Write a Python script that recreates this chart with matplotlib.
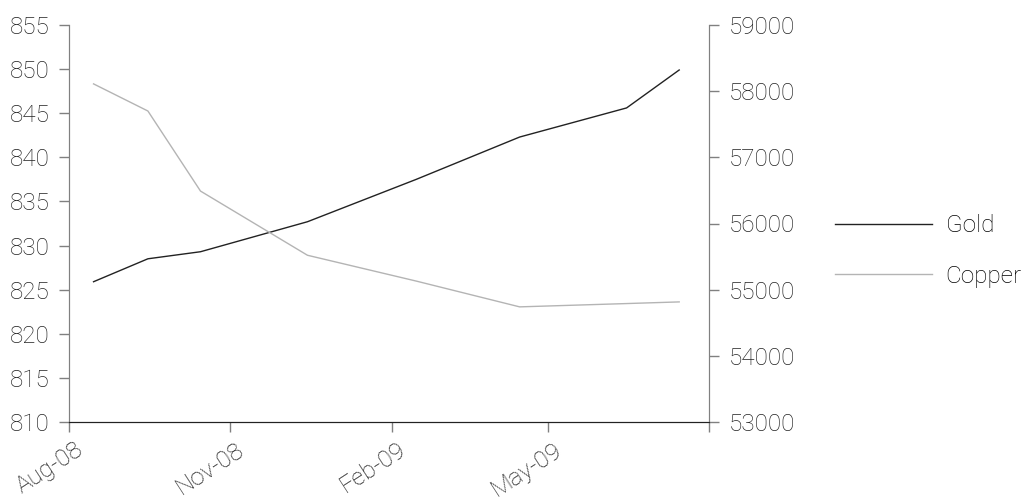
import matplotlib
matplotlib.use('Agg')
import matplotlib.pyplot as plt
import matplotlib.transforms as mtransforms
import numpy as np
from datetime import date

plt.rcParams['font.family'] = ['Roboto', 'DejaVu Sans']
plt.rcParams['font.weight'] = 'light'

# data (mid-month points)
gold_dates = [date(2008, 8, 15), date(2008, 9, 15), date(2008, 10, 15), date(2008, 12, 15),
              date(2009, 2, 15), date(2009, 4, 15), date(2009, 6, 15), date(2009, 7, 15)]
gold = [825.9, 828.5, 829.3, 832.7, 837.5, 842.3, 845.6, 849.9]

copper_dates = [date(2008, 8, 15), date(2008, 9, 15), date(2008, 10, 15), date(2008, 12, 15),
                date(2009, 2, 15), date(2009, 4, 15), date(2009, 6, 15), date(2009, 7, 15)]
copper = [58110, 57700, 56490, 55520, 55130, 54740, 54790, 54815]

tick_dates = [date(2008, 8, 1), date(2008, 11, 1), date(2009, 2, 1), date(2009, 5, 1), date(2009, 8, 1)]
tick_labels = ['Aug-08', 'Nov-08', 'Feb-09', 'May-09', '']

FS = 17.5

fig = plt.figure(figsize=(10.32, 5), dpi=100)
ax = fig.add_axes([69 / 1032, 78 / 500, 640 / 1032, 397 / 500])
ax2 = ax.twinx()

l1, = ax.plot(gold_dates, gold, color='#222222', lw=1.0, label='Gold')
l2, = ax2.plot(copper_dates, copper, color='#b4b4b4', lw=1.0, label='Copper')

ax.set_xlim(tick_dates[0], tick_dates[-1])
ax.set_ylim(810, 855)
ax.set_yticks(np.arange(810, 856, 5))
ax2.set_ylim(53000, 59000)
ax2.set_yticks(np.arange(53000, 59001, 1000))

ax.set_xticks(tick_dates)
ax.set_xticklabels([])
# rotated date labels, offset below the ticks
trans = mtransforms.blended_transform_factory(ax.transData, ax.transAxes)
shift = mtransforms.ScaledTranslation(12 / 100, -26 / 100, fig.dpi_scale_trans)
for d, lab in zip(tick_dates, tick_labels):
    ax.text(d, 0, lab, transform=trans + shift, rotation=33, ha='right', va='center',
            rotation_mode='anchor', fontsize=FS, color='#222222')

for a in (ax, ax2):
    a.spines['top'].set_visible(False)
    a.tick_params(length=7, width=1, color='#808080', labelsize=FS, labelcolor='#222222', pad=7)
    for s in ('left', 'right'):
        a.spines[s].set_color('#808080')
    a.spines['bottom'].set_color('#222222')

fig.legend([l1, l2], ['Gold', 'Copper'], loc='center left', bbox_to_anchor=(835 / 1032, 0.498),
           frameon=False, borderpad=0, borderaxespad=0, handlelength=4.0, handletextpad=0.55,
           labelspacing=1.13, fontsize=FS)

fig.savefig('out.png', dpi=100)
